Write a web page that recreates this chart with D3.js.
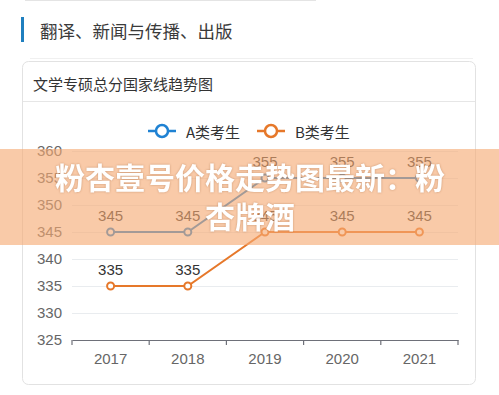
<!DOCTYPE html>
<html>
<head>
<meta charset="utf-8">
<script src="https://cdn.jsdelivr.net/npm/d3@7"></script>
<style>
  body { margin: 0; background: #fff; }
  svg { display: block; font-family: "Noto Sans CJK SC", "Noto Sans", sans-serif; }
</style>
</head>
<body>
<script>
const years = ['2017', '2018', '2019', '2020', '2021']; //Categories on the x-axis.
const seriesA = [345, 345, 355, 355, 355]; //A类考生
const seriesB = [335, 335, 345, 345, 345]; //B类考生
const yTicks = [325, 330, 335, 340, 345, 350, 355, 360];
const seriesNames = ['A类考生', 'B类考生'];
const colours = ['#1f82d3', '#e6782a'];

const width = 499;
const height = 395;

const svg = d3.select('body')
  .append('svg')
  .attr('width', width)
  .attr('height', height);

//Faint edge of the previous card at the top.
svg.append('line')
  .attr('x1', 25).attr('x2', 316).attr('y1', 0.5).attr('y2', 0.5)
  .attr('stroke', '#e4e4e4');

//Section header with blue bar.
svg.append('rect')
  .attr('x', 21).attr('y', 17).attr('width', 3).attr('height', 25)
  .attr('fill', '#1f7fbf');
svg.append('text')
  .attr('x', 40).attr('y', 30)
  .attr('dominant-baseline', 'central')
  .attr('font-size', 17.5)
  .attr('fill', '#3a3a3a')
  .text('翻译、新闻与传播、出版');
svg.append('line')
  .attr('x1', 30).attr('x2', 473).attr('y1', 58.5).attr('y2', 58.5)
  .attr('stroke', '#f0f0f0');

//Card.
svg.append('rect')
  .attr('x', 22.5).attr('y', 61.5).attr('width', 453).attr('height', 323)
  .attr('rx', 6)
  .attr('fill', '#fff')
  .attr('stroke', '#e2e2e2');
svg.append('text')
  .attr('x', 33).attr('y', 83)
  .attr('dominant-baseline', 'central')
  .attr('font-size', 15)
  .attr('fill', '#333')
  .text('文学专硕总分国家线趋势图');
svg.append('line')
  .attr('x1', 23).attr('x2', 475).attr('y1', 101.5).attr('y2', 101.5)
  .attr('stroke', '#e6e6e6');

//Scales.
const xScale = d3.scaleBand()
  .domain(years)
  .range([72, 458]);

const yScale = d3.scaleLinear()
  .domain([325, 360])
  .range([340, 151]);

//Grid lines.
svg.append('g')
  .selectAll('line')
  .data(yTicks.slice(1))
  .enter()
  .append('line')
  .attr('x1', 72).attr('x2', 458)
  .attr('y1', (d) => yScale(d) + 0.5)
  .attr('y2', (d) => yScale(d) + 0.5)
  .attr('stroke', '#e9ecef');

//Y axis labels.
const yAxis = d3.axisLeft(yScale)
  .tickValues(yTicks)
  .tickSize(0)
  .tickPadding(10);
const yG = svg.append('g')
  .attr('transform', 'translate(72,0)')
  .call(yAxis);
yG.select('.domain').remove();
yG.selectAll('text')
  .attr('font-size', 15)
  .attr('fill', '#666')
  .attr('font-family', 'Liberation Sans, Arial, sans-serif');

//X axis.
const xAxis = d3.axisBottom(xScale)
  .tickSize(0)
  .tickPadding(10);
const xG = svg.append('g')
  .attr('transform', 'translate(0,340)')
  .call(xAxis);
xG.select('.domain')
  .attr('stroke', '#6e7079')
  .attr('stroke-width', 1.2);
xG.selectAll('text')
  .attr('font-size', 15)
  .attr('fill', '#666')
  .attr('font-family', 'Liberation Sans, Arial, sans-serif')
  .attr('dy', '0.9em');
xG.selectAll('.edge')
  .data([...years.map((d) => xScale(d)), xScale(years[years.length - 1]) + xScale.bandwidth()])
  .enter()
  .append('line')
  .attr('class', 'edge')
  .attr('x1', (d) => d).attr('x2', (d) => d)
  .attr('y1', 0).attr('y2', 5)
  .attr('stroke', '#6e7079')
  .attr('stroke-width', 1.2);

//Series lines.
const cx = (d, i) => xScale(years[i]) + xScale.bandwidth() / 2;
const line = d3.line()
  .x(cx)
  .y((d) => yScale(d));

[seriesA, seriesB].forEach((series, s) => {
  const g = svg.append('g');
  g.append('path')
    .datum(series)
    .attr('d', line)
    .attr('fill', 'none')
    .attr('stroke', colours[s])
    .attr('stroke-width', 2);
  g.selectAll('circle')
    .data(series)
    .enter()
    .append('circle')
    .attr('cx', cx)
    .attr('cy', (d) => yScale(d))
    .attr('r', 3.5)
    .attr('fill', '#fff')
    .attr('stroke', colours[s])
    .attr('stroke-width', 2);
  g.selectAll('text')
    .data(series)
    .enter()
    .append('text')
    .attr('x', cx)
    .attr('y', (d) => yScale(d) - 17)
    .attr('text-anchor', 'middle')
    .attr('dominant-baseline', 'central')
    .attr('font-size', 15)
    .attr('font-family', 'Liberation Sans, Arial, sans-serif')
    .attr('fill', '#333')
    .text((d) => d);
});

//Legend.
const legendX = [148, 257];
seriesNames.forEach((name, i) => {
  const g = svg.append('g')
    .attr('transform', 'translate(' + legendX[i] + ',131)');
  g.append('line')
    .attr('x1', 0).attr('x2', 28).attr('y1', 0).attr('y2', 0)
    .attr('stroke', colours[i]).attr('stroke-width', 2.5);
  g.append('circle')
    .attr('cx', 14).attr('cy', 0).attr('r', 6)
    .attr('fill', '#fff')
    .attr('stroke', colours[i]).attr('stroke-width', 2.5);
  g.append('text')
    .attr('x', 38).attr('y', 0)
    .attr('dominant-baseline', 'central')
    .attr('font-size', 15)
    .attr('fill', '#333')
    .text(name);
});

//Overlay banner.
svg.append('rect')
  .attr('x', 0).attr('y', 149).attr('width', width).attr('height', 96)
  .attr('fill', 'rgb(245,170,115)')
  .attr('opacity', 0.62);
const banner = svg.append('text')
  .attr('text-anchor', 'middle')
  .attr('font-size', 30)
  .attr('font-weight', 'bold')
  .attr('fill', '#fff')
  .style('filter', 'drop-shadow(0 0 1px rgba(120,60,20,0.35))');
banner.append('tspan').attr('x', 250).attr('y', 189).text('粉杏壹号价格走势图最新：粉');
banner.append('tspan').attr('x', 250).attr('y', 228).text('杏牌酒');
</script>
</body>
</html>
